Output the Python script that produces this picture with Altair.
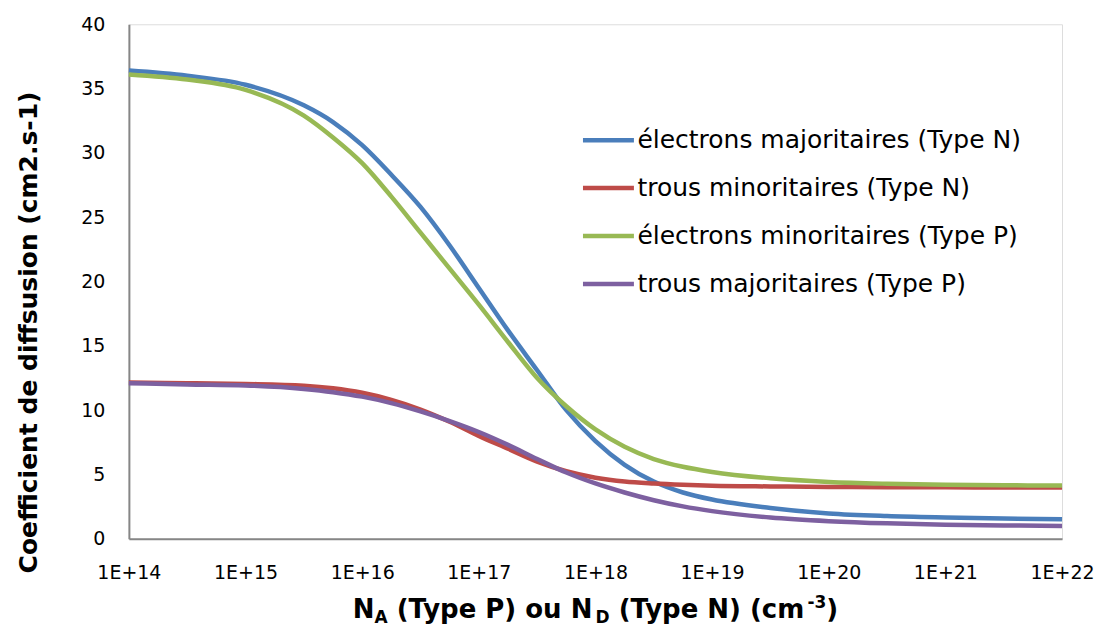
import altair as alt
import pandas as pd

# ---- data ----
exponents = [14, 14.5, 15, 15.5, 15.75, 16, 16.25, 16.5, 16.75, 17, 17.25, 17.5, 17.75,
             18, 18.25, 18.5, 18.75, 19, 19.5, 20, 20.5, 21, 21.5, 22]
electrons_maj_N = [36.4, 36.0, 35.3, 33.7, 32.4, 30.6, 28.3, 25.8, 22.8, 19.5, 16.2, 13.1, 10.0,
                   7.6, 5.75, 4.45, 3.6, 3.05, 2.4, 1.97, 1.77, 1.66, 1.58, 1.52]
trous_min_N = [12.15, 12.1, 12.04, 11.9, 11.7, 11.35, 10.8, 10.05, 9.1, 8.0, 7.0, 6.0, 5.25,
               4.75, 4.45, 4.3, 4.2, 4.13, 4.07, 4.03, 4.01, 4.0, 3.99, 3.98]
electrons_min_P = [36.1, 35.7, 34.9, 32.9, 31.2, 29.2, 26.6, 23.8, 21.0, 18.2, 15.3, 12.5, 10.3,
                   8.5, 7.15, 6.2, 5.6, 5.2, 4.7, 4.42, 4.28, 4.2, 4.16, 4.14]
trous_maj_P = [12.1, 12.0, 11.92, 11.65, 11.4, 11.05, 10.55, 9.9, 9.15, 8.3, 7.3, 6.2, 5.15,
               4.3, 3.6, 3.0, 2.52, 2.15, 1.65, 1.37, 1.2, 1.1, 1.04, 1.0]

series_names = ["électrons majoritaires (Type N)", "trous minoritaires (Type N)",
                "électrons minoritaires (Type P)", "trous majoritaires (Type P)"]
series_values = [electrons_maj_N, trous_min_N, electrons_min_P, trous_maj_P]
series_colors = ["#4A7EBB", "#BE4B48", "#98B954", "#7D60A0"]
x_ticks = [1e14, 1e15, 1e16, 1e17, 1e18, 1e19, 1e20, 1e21, 1e22]
y_ticks = [0, 5, 10, 15, 20, 25, 30, 35, 40]

rows = []
for si, (name, vals) in enumerate(zip(series_names, series_values)):
    for e, v in zip(exponents, vals):
        rows.append({"N": 10.0 ** e, "D": v, "serie": name, "order": si})
df = pd.DataFrame(rows)

W, H = 934, 515
FONT = "DejaVu Sans"

lines = alt.Chart(df).mark_line(strokeWidth=4.5, interpolate="monotone").encode(
    x=alt.X("N:Q", scale=alt.Scale(type="log", domain=[1e14, 1e22], nice=False),
            axis=alt.Axis(values=x_ticks, labelExpr="'1E+' + round(log(datum.value)/log(10))",
                          title=None, grid=False, ticks=False, domainColor="#868686",
                          domainWidth=2, labelFont=FONT, labelFontSize=19, labelColor="#000000",
                          labelPadding=25, labelFlush=False, labelOverlap=False)),
    y=alt.Y("D:Q", scale=alt.Scale(domain=[0, 40], nice=False),
            axis=alt.Axis(values=y_ticks, title="Coefficient de diffsusion (cm2.s-1)",
                          grid=False, ticks=False, domainColor="#868686", domainWidth=2,
                          labelFont=FONT, labelFontSize=19, labelColor="#000000",
                          labelPadding=24, titleFont=FONT, titleFontSize=25,
                          titleFontWeight="bold", titleColor="#000000",
                          titleX=-100, titleY=308, titleAngle=270,
                          titleAlign="center", titleBaseline="middle")),
    color=alt.Color("serie:N", title=None,
                    scale=alt.Scale(domain=series_names, range=series_colors),
                    legend=alt.Legend(orient="none", legendX=452, legendY=88,
                                      symbolType="stroke", symbolSize=2600,
                                      symbolStrokeWidth=4.5, labelFont=FONT,
                                      labelFontSize=25, labelColor="#000000",
                                      labelOffset=1, rowPadding=7, padding=0,
                                      labelLimit=700)),
    order=alt.Order("order:Q"),
    detail="serie:N",
)

# x-axis title built from pieces (subscripts / superscript)
S_MAIN, S_SMALL = 26, 17
W_BOLD = {"N": 0.837, "A": 0.774, "D": 0.830, " ": 0.348, "(": 0.457, ")": 0.457,
          "T": 0.682, "y": 0.652, "p": 0.716, "e": 0.678, "P": 0.733, "o": 0.687,
          "u": 0.712, "c": 0.593, "m": 1.042, "-": 0.415, "3": 0.696}

def width(s, size):
    return sum(W_BOLD[ch] for ch in s) * size

pieces = [("N", S_MAIN, 0), ("A", S_SMALL, 5), (" ", S_MAIN, None),
          ("(Type P) ou N", S_MAIN, 0), ("D", S_SMALL, 5), (" ", S_MAIN, None),
          ("(Type N) (cm", S_MAIN, 0), ("-3", S_SMALL, -10), (")", S_MAIN, 0)]
total = sum(width(p, s) for p, s, _ in pieces)
center_x = 596 - 129
base_y = 594

def txt(s, x, y, size):
    return alt.Chart(pd.DataFrame({"t": [s]})).mark_text(
        align="left", baseline="alphabetic", font=FONT, fontSize=size,
        fontWeight="bold", color="#000000"
    ).encode(text="t:N", x=alt.value(x), y=alt.value(y))

title_parts = []
cx = center_x - total / 2
for p, s, dy in pieces:
    if dy is not None:
        title_parts.append(txt(p, round(cx, 1), base_y + dy, s))
    cx += width(p, s)

chart = alt.layer(lines, *title_parts).properties(
    width=W, height=H,
    autosize=alt.AutoSizeParams(type="none"),
    padding={"left": 121, "top": 16, "right": 34, "bottom": 88},
).configure_view(stroke=None).configure(font=FONT)

chart.save("out.html", embed_options={"renderer": "svg", "actions": False})
